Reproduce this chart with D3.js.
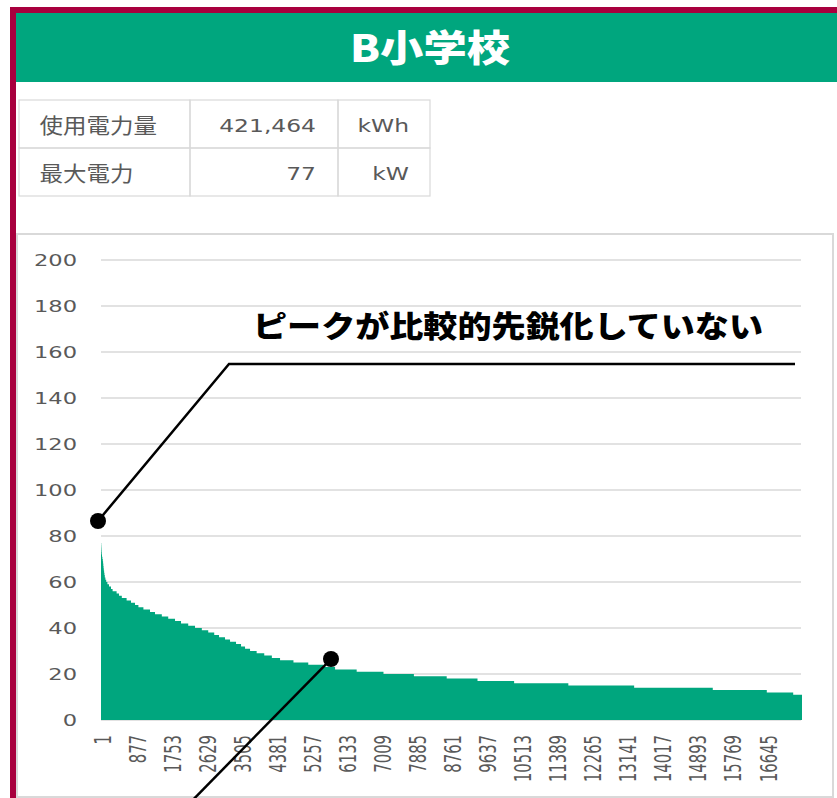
<!DOCTYPE html>
<html>
<head>
<meta charset="utf-8">
<script src="https://cdn.jsdelivr.net/npm/d3@7"></script>
<style>
  body { margin: 0; background: #fff; }
  svg { display: block; }
</style>
</head>
<body>
<svg></svg>
<script>
// ====== données ====== //
const titleText = "B小学校";
const noteText = "ピークが比較的先鋭化していない";

const summaryLabels = ["使用電力量", "最大電力"];
const summaryValues = ["421,464", "77"];
const summaryUnits = ["kWh", "kW"];

// courbe de durée : niveau (kW) et nombre d'heures à ce niveau
const levels = [77, 76, 75, 74, 73, 72, 71, 70, 69, 68, 67, 66, 65, 64, 63, 62, 61, 60,
  59, 58, 57, 56, 55, 54, 53, 52, 51, 50, 49, 48, 47, 46, 45, 44, 43, 42, 41, 40,
  39, 38, 37, 36, 35, 34, 33, 32, 31, 30, 29, 28, 27, 26, 25, 24, 23, 22, 21, 20,
  19, 18, 17, 16, 15, 14, 13, 12, 11];
const hours = [5, 3, 3, 3, 4, 7, 10, 10, 7, 6, 6, 6, 8, 8, 9, 15, 20, 30,
  40, 50, 40, 100, 60, 70, 120, 110, 100, 85, 125, 165, 125, 170, 160, 170, 150, 180, 170, 170,
  160, 150, 120, 150, 125, 150, 125, 100, 125, 165, 190, 190, 205, 335, 370, 380, 290, 540, 670, 760,
  820, 770, 915, 1355, 1645, 1965, 1350, 660, 220];

const yTicks = [0, 20, 40, 60, 80, 100, 120, 140, 160, 180, 200];
const xTickLabels = [1, 877, 1753, 2629, 3505, 4381, 5257, 6133, 7009, 7885, 8761,
  9637, 10513, 11389, 12265, 13141, 14017, 14893, 15769, 16645];

// ====== constantes ====== //
const width = 837;
const height = 798;
const green = "#00a67e";
const crimson = "#a8003e";
const grey = "#595959";
const lineGrey = "#d9d9d9";
const jpFont = "'Noto Sans CJK JP', sans-serif";
const numFont = "'DejaVu Sans', sans-serif";

const svg = d3.select("svg")
  .attr("width", width)
  .attr("height", height);

// cadre
svg.append("rect").attr("x", 0).attr("y", 0).attr("width", width).attr("height", height).attr("fill", "#fff");
svg.append("rect").attr("x", 10).attr("y", 7).attr("width", width - 10).attr("height", 6).attr("fill", crimson);
svg.append("rect").attr("x", 10).attr("y", 7).attr("width", 6).attr("height", height - 7).attr("fill", crimson);
svg.append("rect").attr("x", 16).attr("y", 13).attr("width", width - 16).attr("height", 69).attr("fill", green);

svg.append("text")
  .attr("x", 350).attr("y", 62)
  .attr("font-family", jpFont).attr("font-weight", 900).attr("font-size", 37)
  .attr("textLength", 160).attr("lengthAdjust", "spacingAndGlyphs")
  .attr("fill", "#fff")
  .text(titleText);

// ====== tableau ====== //
const colX = [19, 190, 338, 430];
const rowY = [100, 148, 196];

summaryLabels.forEach((lab, i) => {
  for (let c = 0; c < 3; c++) {
    svg.append("rect")
      .attr("x", colX[c]).attr("y", rowY[i])
      .attr("width", colX[c + 1] - colX[c]).attr("height", rowY[i + 1] - rowY[i])
      .attr("fill", "none").attr("stroke", lineGrey).attr("stroke-width", 1.2);
  }
  const cy = (rowY[i] + rowY[i + 1]) / 2 + 1;
  svg.append("text")
    .attr("transform", `translate(39.5,${cy + 8}) scale(1.12,1)`)
    .attr("font-family", jpFont).attr("font-size", 21).attr("fill", grey)
    .text(lab);
  svg.append("text")
    .attr("transform", `translate(316,${cy + 6.7}) scale(1.28,1)`)
    .attr("text-anchor", "end")
    .attr("font-family", numFont).attr("font-size", 18.3).attr("fill", grey)
    .text(summaryValues[i]);
  svg.append("text")
    .attr("transform", `translate(409,${cy + 6.7}) scale(1.28,1)`)
    .attr("text-anchor", "end")
    .attr("font-family", numFont).attr("font-size", 18.3).attr("fill", grey)
    .text(summaryUnits[i]);
});

// ====== graphique ====== //
svg.append("rect")
  .attr("x", 17).attr("y", 234).attr("width", 816).attr("height", 563)
  .attr("fill", "#fff").attr("stroke", lineGrey).attr("stroke-width", 2);

const totalHours = d3.sum(hours);
const starts = [0, ...d3.cumsum(hours)];

const x = d3.scaleLinear().domain([0, totalHours]).range([101, 802]);
const y = d3.scaleLinear().domain([0, 200]).range([720, 260]);

// grille
svg.append("g")
  .selectAll("line")
  .data(yTicks)
  .join("line")
  .attr("x1", 101).attr("x2", 801)
  .attr("y1", d => y(d)).attr("y2", d => y(d))
  .attr("stroke", lineGrey).attr("stroke-width", 1.4);

// étiquettes Y
svg.append("g")
  .selectAll("text")
  .data(yTicks)
  .join("text")
  .attr("transform", d => `translate(77,${y(d) + 6}) scale(1.37,1)`)
  .attr("text-anchor", "end")
  .attr("font-family", numFont).attr("font-size", 16.5).attr("fill", grey)
  .text(d => d);

// aire en escalier (courbe de durée)
const pts = levels.map((v, i) => ({ s: starts[i], v: v }));
pts.push({ s: totalHours, v: levels[levels.length - 1] });

const area = d3.area()
  .curve(d3.curveStepAfter)
  .x(d => x(d.s))
  .y0(y(0))
  .y1(d => y(d.v));

svg.append("path")
  .datum(pts)
  .attr("d", area)
  .attr("fill", green);

// étiquettes X
svg.append("g")
  .selectAll("text")
  .data(xTickLabels)
  .join("text")
  .attr("transform", d => `translate(${x(d - 0.5) + 1.5},735) scale(1.55,1) rotate(-90)`)
  .attr("dy", "0.35em")
  .attr("text-anchor", "end")
  .attr("font-family", numFont).attr("font-size", 14.8).attr("fill", grey)
  .text(d => d);

// ====== annotations ====== //
svg.append("polyline")
  .attr("points", "98,521 229,364 795,364")
  .attr("fill", "none").attr("stroke", "#000").attr("stroke-width", 2.5);
svg.append("circle").attr("cx", 98).attr("cy", 521).attr("r", 8).attr("fill", "#000");

svg.append("line")
  .attr("x1", 331).attr("y1", 659).attr("x2", 182).attr("y2", 811)
  .attr("stroke", "#000").attr("stroke-width", 2.5);
svg.append("circle").attr("cx", 331).attr("cy", 659).attr("r", 8).attr("fill", "#000");

svg.append("text")
  .attr("x", 253).attr("y", 337)
  .attr("font-family", jpFont).attr("font-weight", 900).attr("font-size", 30)
  .attr("textLength", 510).attr("lengthAdjust", "spacingAndGlyphs")
  .attr("fill", "#000")
  .text(noteText);
</script>
</body>
</html>
